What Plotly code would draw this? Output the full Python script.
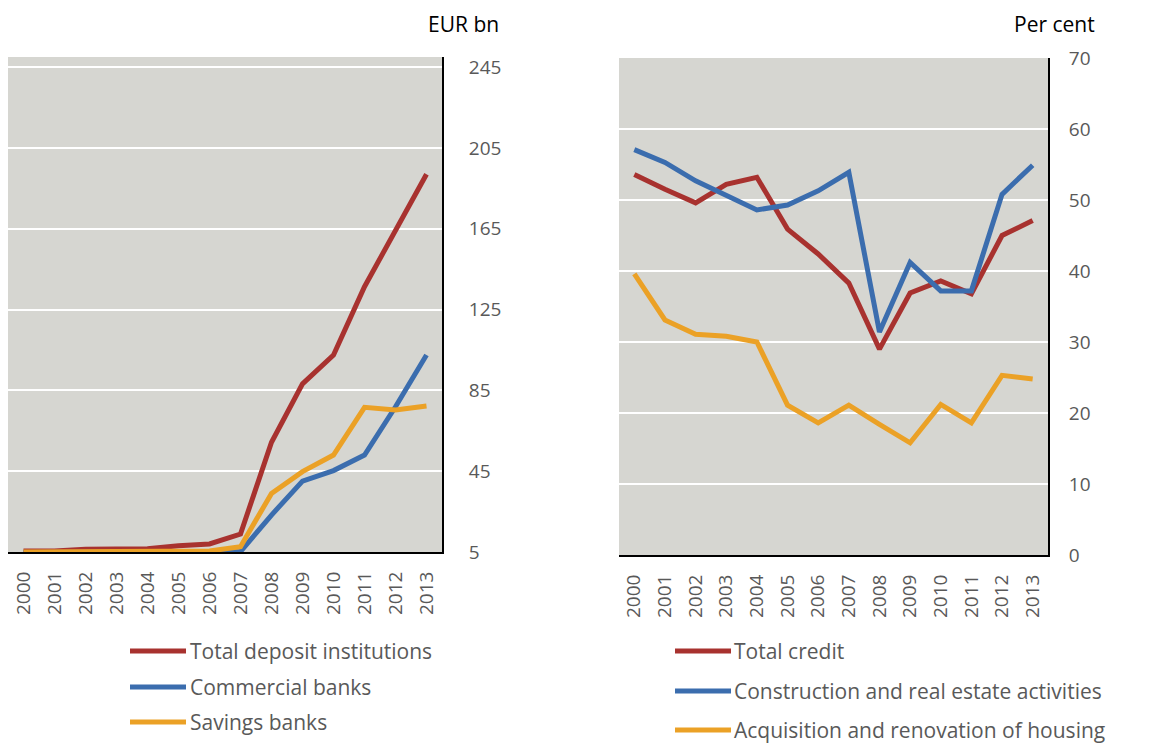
import plotly.graph_objects as go

# 数据
years = [str(y) for y in range(2000, 2014)]

# 左图：EUR bn
total_deposit = [5.5, 5.5, 6.3, 6.3, 6.6, 8.1, 9.0, 13.9, 59.3, 88.2, 102.5, 136.3, 164.4, 192.0]
commercial = [4.8, 4.8, 4.9, 4.9, 5.0, 5.0, 5.0, 5.2, 23.3, 40.1, 45.3, 53.0, 76.9, 102.5]
savings = [5.0, 5.0, 5.0, 5.0, 5.1, 5.3, 5.5, 7.6, 34.0, 44.8, 53.0, 76.6, 75.3, 77.3]

# 右图：Per cent
total_credit = [53.6, 51.5, 49.6, 52.2, 53.2, 45.9, 42.4, 38.3, 29.0, 36.9, 38.6, 36.8, 45.0, 47.1]
construction = [57.1, 55.3, 52.7, 50.6, 48.6, 49.3, 51.3, 53.9, 31.4, 41.2, 37.2, 37.2, 50.8, 54.9]
housing = [39.6, 33.1, 31.1, 30.8, 30.0, 21.1, 18.6, 21.1, 18.4, 15.8, 21.2, 18.6, 25.3, 24.8]

left_names = ["Total deposit institutions", "Commercial banks", "Savings banks"]
right_names = ["Total credit", "Construction and real estate activities",
               "Acquisition and renovation of housing"]

RED, BLUE, ORANGE = "#A8322F", "#3B6DAE", "#EBA126"
COLORS = [RED, BLUE, ORANGE]
# 页面 body 有 8px 边距，画布相应缩小
OFF = 8
W, H = 1154 - OFF, 747 - OFF
FONT = "Open Sans"
FS = 19
FS_LEG = 21
GREY_TXT = "#595959"
BG = "#D6D6D1"


def px_x(x):
    return (x - OFF) / W


def px_y(y):
    return 1 - (y - OFF) / H


fig = go.Figure()

for vals, name, col in zip([total_deposit, commercial, savings], left_names, COLORS):
    fig.add_trace(go.Scatter(x=years, y=vals, name=name, mode="lines",
                             line=dict(color=col, width=5),
                             xaxis="x", yaxis="y", showlegend=False))

for vals, name, col in zip([total_credit, construction, housing], right_names, COLORS):
    fig.add_trace(go.Scatter(x=years, y=vals, name=name, mode="lines",
                             line=dict(color=col, width=5),
                             xaxis="x2", yaxis="y2", showlegend=False))

axis_font = dict(family=FONT, size=FS, color=GREY_TXT)
x_common = dict(type="category", tickangle=-90, showgrid=False, showline=True,
                linecolor="black", linewidth=2, ticks="", tickfont=axis_font,
                automargin=False, zeroline=False, ticklabelstandoff=10,
                range=[-0.5, len(years) - 0.5])
y_common = dict(side="right", showgrid=True, gridcolor="white", gridwidth=2,
                showline=True, linecolor="black", linewidth=2, ticks="",
                tickfont=axis_font, automargin=False, zeroline=False)

fig.update_layout(
    template="none",
    width=W, height=H,
    margin=dict(l=0, r=0, t=0, b=0),
    paper_bgcolor="white",
    plot_bgcolor=BG,
    font=dict(family=FONT, color=GREY_TXT),
    xaxis=dict(domain=[px_x(8), px_x(442)], anchor="y", **x_common),
    yaxis=dict(domain=[px_y(552), px_y(57)], anchor="x", range=[5, 250],
               tickvals=[5, 45, 85, 125, 165, 205, 245], ticklabelstandoff=21, **y_common),
    xaxis2=dict(domain=[px_x(619), px_x(1048)], anchor="y2", **x_common),
    yaxis2=dict(domain=[px_y(555), px_y(58)], anchor="x2", range=[0, 70],
                tickvals=[0, 10, 20, 30, 40, 50, 60, 70], ticklabelstandoff=15, **y_common),
)

# 轴单位
fig.add_annotation(text="EUR bn", x=px_x(501), y=1, xref="paper", yref="paper",
                   xanchor="right", yanchor="top", showarrow=False,
                   font=dict(family=FONT, size=FS_LEG, color="black"))
fig.add_annotation(text="Per cent", x=px_x(1097), y=1, xref="paper", yref="paper",
                   xanchor="right", yanchor="top", showarrow=False,
                   font=dict(family=FONT, size=FS_LEG, color="black"))

# 手工图例
legends = [
    (left_names, 130, 186, 188, [651, 687, 722]),
    (right_names, 675, 731, 732, [651, 691, 730]),
]
for names, x0, x1, xt, rows in legends:
    for name, col, yy in zip(names, COLORS, rows):
        fig.add_shape(type="line", xref="paper", yref="paper",
                      x0=px_x(x0), x1=px_x(x1), y0=px_y(yy), y1=px_y(yy),
                      line=dict(color=col, width=5))
        fig.add_annotation(text=name, x=px_x(xt), y=px_y(yy), xref="paper", yref="paper",
                           xanchor="left", yanchor="middle", showarrow=False,
                           font=dict(family=FONT, size=FS_LEG, color=GREY_TXT))

fig.write_html("out.html")
